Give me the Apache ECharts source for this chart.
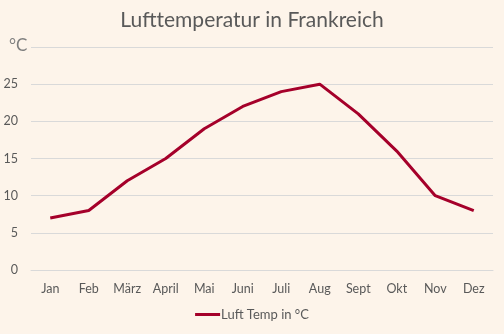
<!DOCTYPE html>
<html>
<head>
<meta charset="utf-8">
<script src="https://cdn.jsdelivr.net/npm/echarts@6/dist/echarts.min.js"></script>
<style>
  html, body { margin: 0; padding: 0; background: #fdf4ea; }
  #chart { width: 504px; height: 334px; }
</style>
</head>
<body>
<div id="chart"></div>
<script>
const months = ['Jan', 'Feb', 'März', 'April', 'Mai', 'Juni', 'Juli', 'Aug', 'Sept', 'Okt', 'Nov', 'Dez'];
const airTemp = [7, 8, 12, 15, 19, 22, 24, 25, 21, 16, 10, 8];
const seriesName = 'Luft Temp in °C';
const yTicks = { min: 0, max: 30, step: 5 };

const textColor = '#595959';
const fontFamily = 'Lato, "Open Sans", sans-serif';

const chart = echarts.init(document.getElementById('chart'), null, { renderer: 'canvas' });
chart.setOption({
  backgroundColor: '#fdf4ea',
  animation: false,
  title: {
    text: 'Lufttemperatur in Frankreich',
    left: 'center',
    top: 5,
    textStyle: { color: textColor, fontSize: 21, fontWeight: 'normal', fontFamily: fontFamily }
  },
  graphic: [{
    type: 'text',
    left: 9,
    top: 37,
    style: { text: '°C', fill: '#7f7f7f', font: '17px ' + fontFamily }
  }],
  legend: {
    bottom: 8,
    left: 'center',
    itemWidth: 25,
    itemHeight: 3,
    itemGap: 10,
    icon: 'rect',
    textStyle: { color: textColor, fontSize: 13, fontFamily: fontFamily, padding: [0, 0, 0, -4] },
    data: [seriesName]
  },
  grid: { left: 31, right: 11, top: 47, bottom: 64 },
  xAxis: {
    type: 'category',
    data: months,
    boundaryGap: true,
    axisLine: { lineStyle: { color: '#d9d9d9' } },
    axisTick: { show: false },
    axisLabel: { color: textColor, fontSize: 12.5, fontFamily: fontFamily, margin: 12 }
  },
  yAxis: {
    type: 'value',
    min: yTicks.min,
    max: yTicks.max,
    interval: yTicks.step,
    axisLine: { show: false },
    axisTick: { show: false },
    splitLine: { lineStyle: { color: '#d9d9d9' } },
    axisLabel: {
      color: textColor, fontSize: 12.5, fontFamily: fontFamily, margin: 13,
      formatter: v => (v === yTicks.max ? '' : String(v))
    }
  },
  series: [{
    name: seriesName,
    type: 'line',
    data: airTemp,
    symbol: 'none',
    lineStyle: { color: '#a5002a', width: 3 },
    itemStyle: { color: '#a5002a' }
  }]
});
</script>
</body>
</html>
